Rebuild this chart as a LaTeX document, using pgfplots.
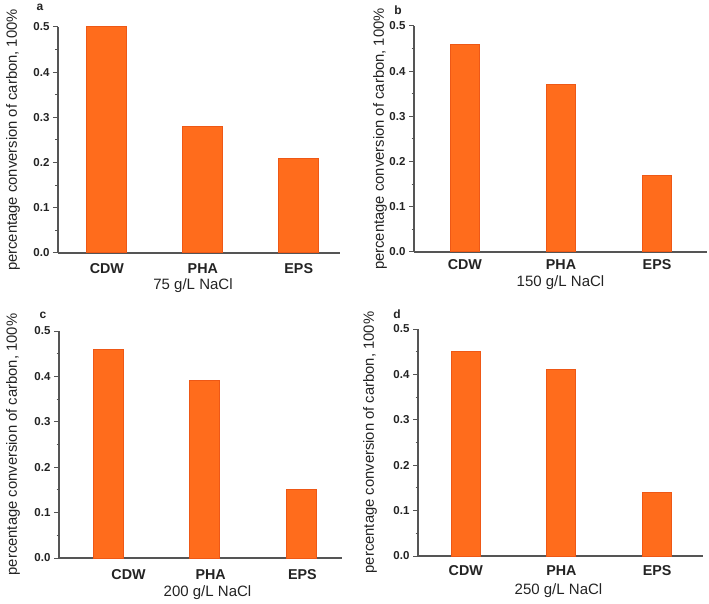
\documentclass[border=0pt]{standalone}
\usepackage{fontspec}
\setmainfont{Liberation Sans}
\usepackage{pgfplots}
\pgfplotsset{compat=1.18}
\definecolor{barfill}{RGB}{255,108,28}
\definecolor{baredge}{RGB}{238,88,22}
\definecolor{axgray}{RGB}{85,85,85}
\definecolor{txtgray}{RGB}{35,35,35}
\pgfplotsset{
  panel/.style={
    scale only axis,
    clip=false,
    ybar,
    axis x line*=bottom,
    axis y line*=left,
    axis line style={axgray, line width=1.3pt, -},
    ymin=0, ymax=0.5,
    ytick={0,0.1,0.2,0.3,0.4,0.5},
    minor y tick num=1,
    tick align=outside,
    major tick length=5pt,
    minor tick length=2.5pt,
    ytick style={axgray, line width=1pt},
    minor tick style={axgray, line width=1pt},
    xtick style={draw=none},
    xtick={1,2,3},
    xticklabels={CDW,PHA,EPS},
    /pgf/number format/assume math mode=true,
    yticklabel={\pgfmathprintnumber[fixed,fixed zerofill,precision=1]{\tick}},
    yticklabel style={font=\fontsize{11.5}{13}\selectfont\bfseries, text=txtgray},
    xticklabel style={font=\fontsize{14.3}{16}\selectfont\bfseries, text=txtgray, anchor=center},
    ylabel={percentage conversion of carbon, 100\%},
  },
  xlab/.style 2 args={xlabel style={font=\fontsize{15}{17}\selectfont, text=txtgray, anchor=center, at={([xshift=#1,yshift=#2]axis description cs:0.5,0)}}},
  ylab/.style={ylabel style={font=\fontsize{14.8}{17}\selectfont, text=txtgray, anchor=center, rotate=0, at={([xshift=#1]axis description cs:0,0.5)}}},
  mybar/.style={fill=barfill, draw=baredge, line width=1pt},
}
\begin{document}
\begin{tikzpicture}
\useasboundingbox (0pt,0pt) rectangle (709pt,603pt);
% panel a
\begin{axis}[panel, at={(58pt,350pt)}, anchor=south west,
  width=282pt, height=226pt, xmin=0.49, xmax=3.43, bar width=40pt,
  xticklabel style={yshift=-10.5pt},
  xlabel={75 g/L NaCl}, xlab={-6pt}{-32.5pt}, ylab={-45pt}]
\addplot[mybar] coordinates {(1,0.50) (2,0.28) (3,0.21)};
\end{axis}
% panel b
\begin{axis}[panel, at={(414pt,351pt)}, anchor=south west,
  width=293pt, height=226pt, xmin=0.47, xmax=3.52, bar width=29pt,
  xticklabel style={yshift=-8pt},
  xlabel={150 g/L NaCl}, xlab={0pt}{-31pt}, ylab={-34pt}]
\addplot[mybar] coordinates {(1,0.46) (2,0.37) (3,0.17)};
\end{axis}
% panel c
\begin{axis}[panel, at={(59pt,45pt)}, anchor=south west,
  width=283pt, height=227pt, xmin=0.49, xmax=3.42, bar width=30pt,
  xtick={1.21,2.06,3.01},
  xticklabel style={yshift=-12pt},
  xlabel={200 g/L NaCl}, xlab={7pt}{-34.5pt}, ylab={-46pt}]
\addplot[mybar] coordinates {(1,0.46) (2,0.39) (3,0.15)};
\end{axis}
% panel d
\begin{axis}[panel, at={(418pt,47pt)}, anchor=south west,
  width=285pt, height=227pt, xmin=0.50, xmax=3.48, bar width=29pt,
  xticklabel style={yshift=-10pt},
  xlabel={250 g/L NaCl}, xlab={-2pt}{-35pt}, ylab={-48pt}]
\addplot[mybar] coordinates {(1,0.45) (2,0.41) (3,0.14)};
\end{axis}
\node[font=\fontsize{12}{13}\selectfont\bfseries, text=txtgray] at (40pt,596pt) {a};
\node[font=\fontsize{12}{13}\selectfont\bfseries, text=txtgray] at (398pt,593pt) {b};
\node[font=\fontsize{12}{13}\selectfont\bfseries, text=txtgray] at (43pt,288pt) {c};
\node[font=\fontsize{12}{13}\selectfont\bfseries, text=txtgray] at (397pt,289pt) {d};
\end{tikzpicture}
\end{document}
